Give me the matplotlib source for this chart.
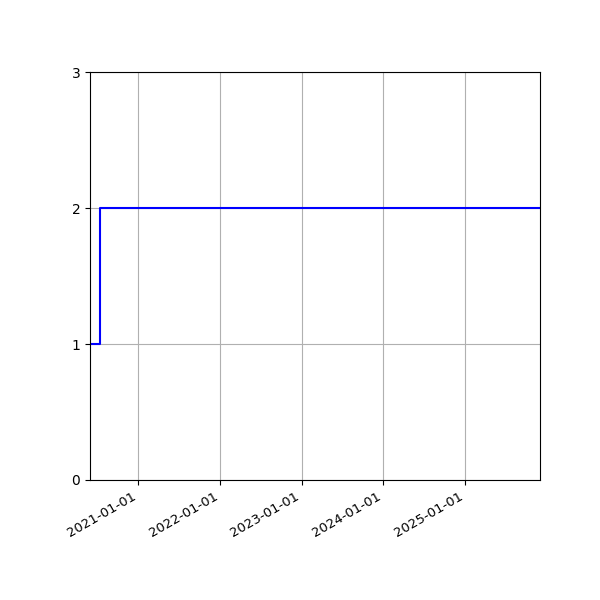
import numpy as np
import pandas as pd
import matplotlib
matplotlib.use('Agg')
import matplotlib.pyplot as plt
import matplotlib.dates as mdates

# data
dates = pd.to_datetime(['2020-05-31', '2020-07-16', '2025-11-30'])
values = [1, 2, 2]

fig, ax = plt.subplots(figsize=(6, 6), dpi=100)
ax.step(dates, values, where='post', color='blue')
ax.set_xlim(dates[0], dates[-1])
ax.set_ylim(0, 3)
ax.set_yticks([0, 1, 2, 3])
ax.xaxis.set_major_locator(mdates.YearLocator())
ax.xaxis.set_major_formatter(mdates.DateFormatter('%Y-%m-%d'))
ax.grid(True)
fig.autofmt_xdate()
ax.tick_params(axis='x', labelsize=9.5)
fig.subplots_adjust(left=0.15, right=0.9, top=0.88, bottom=0.2)
fig.savefig('out.png')
